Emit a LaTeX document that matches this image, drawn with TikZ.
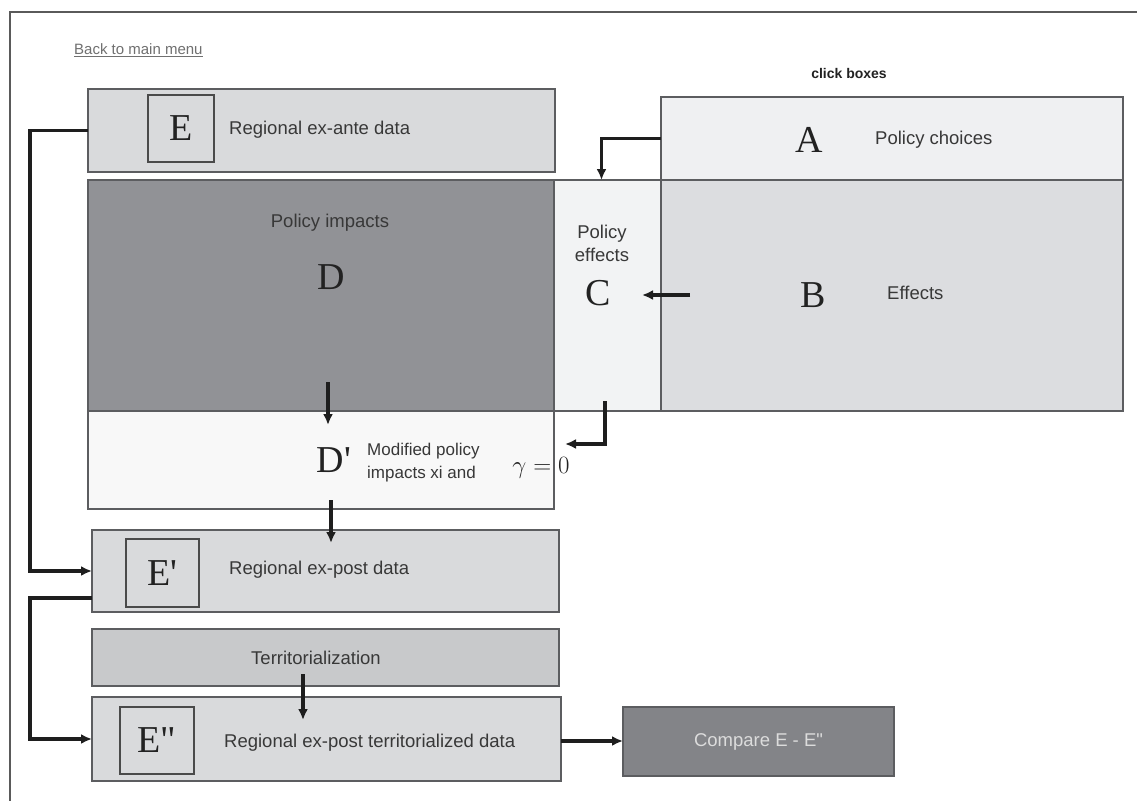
\documentclass[tikz,border=0pt]{standalone}
\usepackage{fontspec}
\setmainfont{Liberation Sans}[Ligatures=TeXOff]
\newfontfamily\serifL{Liberation Serif}[Ligatures=TeXOff]
\usetikzlibrary{arrows.meta}
\definecolor{bordc}{HTML}{5C5D60}
\definecolor{sqc}{HTML}{4A4A4A}
\definecolor{txtc}{HTML}{383838}
\definecolor{letc}{HTML}{222222}
\definecolor{connc}{HTML}{1E1E1E}
\definecolor{framec}{HTML}{5A5A5A}
\definecolor{efill}{HTML}{D9DADC}
\definecolor{tfill}{HTML}{C8C9CB}
\definecolor{dfill}{HTML}{919296}
\definecolor{cfill}{HTML}{F2F3F4}
\definecolor{afill}{HTML}{EFF0F2}
\definecolor{bfill}{HTML}{DCDDE0}
\definecolor{dpfill}{HTML}{F8F8F8}
\definecolor{cmpfill}{HTML}{838488}
\definecolor{cmptxt}{HTML}{DCDCDC}
\definecolor{linkc}{HTML}{707070}
\begin{document}
\begin{tikzpicture}[x=1pt,y=-1pt,
  box/.style={draw=bordc, line width=1.4pt, rectangle, inner sep=0pt, outer sep=0pt, anchor=north west},
  sq/.style={draw=sqc, line width=1.4pt, rectangle, inner sep=0pt, outer sep=0pt, anchor=north west},
  lbl/.style={text=txtc, inner sep=0pt, font=\fontsize{18.5}{23}\selectfont},
  big/.style={text=letc, inner sep=0pt, font=\serifL\fontsize{38}{40}\selectfont},
  conn/.style={draw=connc, line width=3.6pt, -{Latex[length=11pt,width=10pt]}},
  ]
\useasboundingbox (0,0) rectangle (1137,800);
\fill[white] (0,0) rectangle (1137,800);
% frame
\draw[draw=framec, line width=1.6pt] (10,805) -- (10,12) -- (1145,12);

\node[anchor=west, inner sep=0pt, text=linkc, font=\fontsize{15}{18}\selectfont] (back) at (74,50) {\underline{Back to main menu}};
\node[inner sep=0pt, text=letc, font=\bfseries\fontsize{14}{17}\selectfont] (click) at (849,73) {click boxes};

% boxes
\node[box, fill=efill, minimum width=467pt, minimum height=83pt] (E) at (88,89) {};
\node[box, fill=afill, minimum width=462pt, minimum height=83pt] (A) at (661,97) {};
\node[box, fill=dfill, minimum width=466pt, minimum height=231pt] (D) at (88,180) {};
\node[box, fill=cfill, minimum width=107pt, minimum height=231pt] (C) at (554,180) {};
\node[box, fill=bfill, minimum width=462pt, minimum height=231pt] (B) at (661,180) {};
\node[box, fill=dpfill, minimum width=466pt, minimum height=98pt] (Dp) at (88,411) {};
\node[box, fill=efill, minimum width=467pt, minimum height=82pt] (Ep) at (92,530) {};
\node[box, fill=tfill, minimum width=467pt, minimum height=57pt] (T) at (92,629) {};
\node[box, fill=efill, minimum width=469pt, minimum height=84pt] (Epp) at (92,697) {};
\node[box, fill=cmpfill, minimum width=271pt, minimum height=69pt] (Cmp) at (623,707) {};

% inner squares
\node[sq, minimum width=66pt, minimum height=67pt] (Esq) at (148,95) {};
\node[sq, minimum width=73pt, minimum height=68pt] (Epsq) at (126,539) {};
\node[sq, minimum width=74pt, minimum height=67pt] (Eppsq) at (120,707) {};

% letters
\node[big] (Eltr) at (Esq.center) {E};
\node[big] (Epltr) at (Epsq.center) {E'};
\node[big] (Eppltr) at (Eppsq.center) {E"};
\node[big] (Altr) at (809,140) {A};
\node[big] (Bltr) at (813,295) {B};
\node[big] (Cltr) at (598,293) {C};
\node[big] (Dltr) at (331,277) {D};
\node[big] (Dpltr) at (334,460) {D'};

% labels
\node[lbl, anchor=west] (Etxt) at (229,130) {Regional ex-ante data};
\node[lbl, anchor=west] (Atxt) at (875,140) {Policy choices};
\node[lbl, anchor=west] (Btxt) at (887,293) {Effects};
\node[lbl, align=center] (Ctxt) at (602,243) {Policy\\effects};
\node[lbl] (Dtxt) at (330,223) {Policy impacts};
\node[lbl, anchor=west, align=left, font=\fontsize{17}{23}\selectfont] (Dptxt) at (367,463) {Modified policy\\impacts xi and};
\node[inner sep=0pt, text=letc, font=\fontsize{33}{36}\selectfont] (gam) at (541,468) {$\gamma=0$};
\node[lbl, anchor=west] (Eptxt) at (229,570) {Regional ex-post data};
\node[lbl] (Ttxt) at (316,658) {Territorialization};
\node[lbl, anchor=west] (Epptxt) at (224,743) {Regional ex-post territorialized data};
\node[lbl, text=cmptxt] (Cmptxt) at (Cmp.center) {Compare E - E"};

% connector ends
\coordinate (bstart) at (690,295);
\coordinate (cend) at (642,295);
\coordinate (cstart) at (605,401);
\coordinate (dpin) at (565,444);
\coordinate (dstart) at (328,382);
\coordinate (dpend) at (328,425);
\coordinate (dpstart) at (331,500);
\coordinate (epend) at (331,543);
\coordinate (tstart) at (303,674);
\coordinate (eppend) at (303,720);

% connectors
\draw[conn] (E.west) -- ++(-58,0) |- (Ep.west);
\draw[conn] ([yshift=-27pt]Ep.west) -- ++(-62,0) |- (Epp.west);
\draw[conn] (A.west) -| ([xshift=-6pt]C.north);
\draw[conn] (bstart) -- (cend);
\draw[conn] (cstart) |- (dpin);
\draw[conn] (dstart) -- (dpend);
\draw[conn] (dpstart) -- (epend);
\draw[conn] (tstart) -- (eppend);
\draw[conn] (Epp.east |- 0,741) -- (Cmp.west |- 0,741);
\end{tikzpicture}
\end{document}
